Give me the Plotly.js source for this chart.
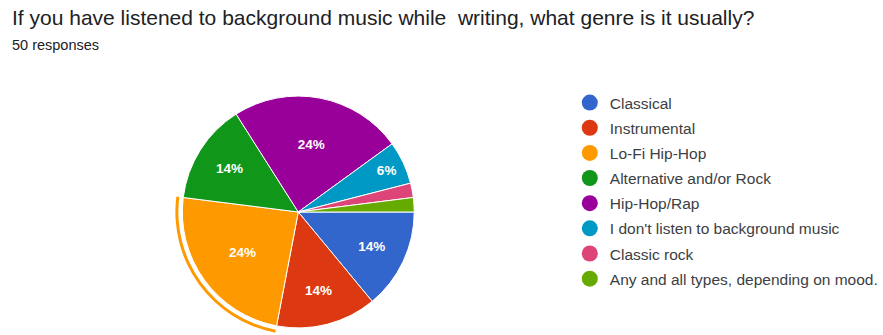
<!DOCTYPE html>
<html><head><meta charset="utf-8">
<script src="https://cdn.plot.ly/plotly-3.0.1.min.js"></script>
<style>html,body{margin:0;padding:0;width:883px;height:335px;overflow:hidden;background:#fff}#chart{width:883px;height:350px}</style>
</head><body><div id="chart"></div>
<script>
const categories = ["Classical","Instrumental","Lo-Fi Hip-Hop","Alternative and/or Rock","Hip-Hop/Rap","I don't listen to background music","Classic rock","Any and all types, depending on mood."];
const counts = [7,7,12,7,12,3,1,1];
const colors = ["#3366cc","#dc3912","#ff9900","#109618","#990099","#0099c6","#dd4477","#66aa00"];
const highlighted = "Lo-Fi Hip-Hop";
const titleText = "If you have listened to background music while  writing, what genre is it usually?";
const subtitleText = "50 responses";

const W = 883, H = 350;
const cx = 301, cy = 212, R = 117, ringR = 124;
function dom(r){ return {x:[(cx-r)/W,(cx+r)/W], y:[(H-cy-r)/H,(H-cy+r)/H]}; }

const total = counts.reduce((a,b)=>a+b,0);
const textpos = counts.map(v => v/total >= 0.05 ? 'inside' : 'none');

const traces = [];
traces.push({
  type:'pie', labels:categories, values:counts, sort:false, direction:'clockwise', rotation:90,
  domain:dom(R), marker:{colors:colors, line:{color:'#ffffff', width:1}},
  textinfo:'percent', texttemplate:'%{percent:.0%}', textposition:textpos,
  insidetextfont:{color:'#ffffff', size:13.5, family:'Liberation Sans, Arial, sans-serif', weight:'bold'},
  insidetextorientation:'horizontal',
  showlegend:false, hoverinfo:'label+percent'
});
traces.push({
  type:'pie', labels:categories, values:counts, sort:false, direction:'clockwise', rotation:90,
  domain:dom(ringR), hole:(ringR-3)/ringR,
  marker:{colors:categories.map((c,i)=> c===highlighted ? colors[i] : 'rgba(0,0,0,0)'), line:{width:0}},
  textinfo:'none', showlegend:false, hoverinfo:'skip'
});
categories.forEach((c,i)=>{
  traces.push({type:'scatter', mode:'markers', x:[null], y:[null], name:c, legendgroup:'g'+i,
    marker:{color:colors[i], size:16, symbol:'circle'}, hoverinfo:'skip'});
});

const layout = {
  width:W, height:H, margin:{l:0,r:0,t:0,b:0}, paper_bgcolor:'#fff', plot_bgcolor:'#fff',
  xaxis:{visible:false, range:[0,1]}, yaxis:{visible:false, range:[0,1]},
  showlegend:true,
  legend:{x:575/W, xanchor:'left', y:(H-86)/H, yanchor:'top', traceorder:'grouped', tracegroupgap:2,
    font:{family:'Liberation Sans, Arial, sans-serif', size:15.5, color:'#3c4043'}, itemsizing:'trace', bgcolor:'rgba(0,0,0,0)'},
  annotations:[
    {text:titleText, xref:'paper', yref:'paper', x:10/W, xanchor:'left', y:(H-18)/H, yanchor:'middle', showarrow:false,
     font:{family:'Liberation Sans, Arial, sans-serif', size:21, color:'#202124'}},
    {text:subtitleText, xref:'paper', yref:'paper', x:10/W, xanchor:'left', y:(H-45)/H, yanchor:'middle', showarrow:false,
     font:{family:'Liberation Sans, Arial, sans-serif', size:14.5, color:'#202124'}}
  ]
};
Plotly.newPlot('chart', traces, layout, {displayModeBar:false});
</script></body></html>
